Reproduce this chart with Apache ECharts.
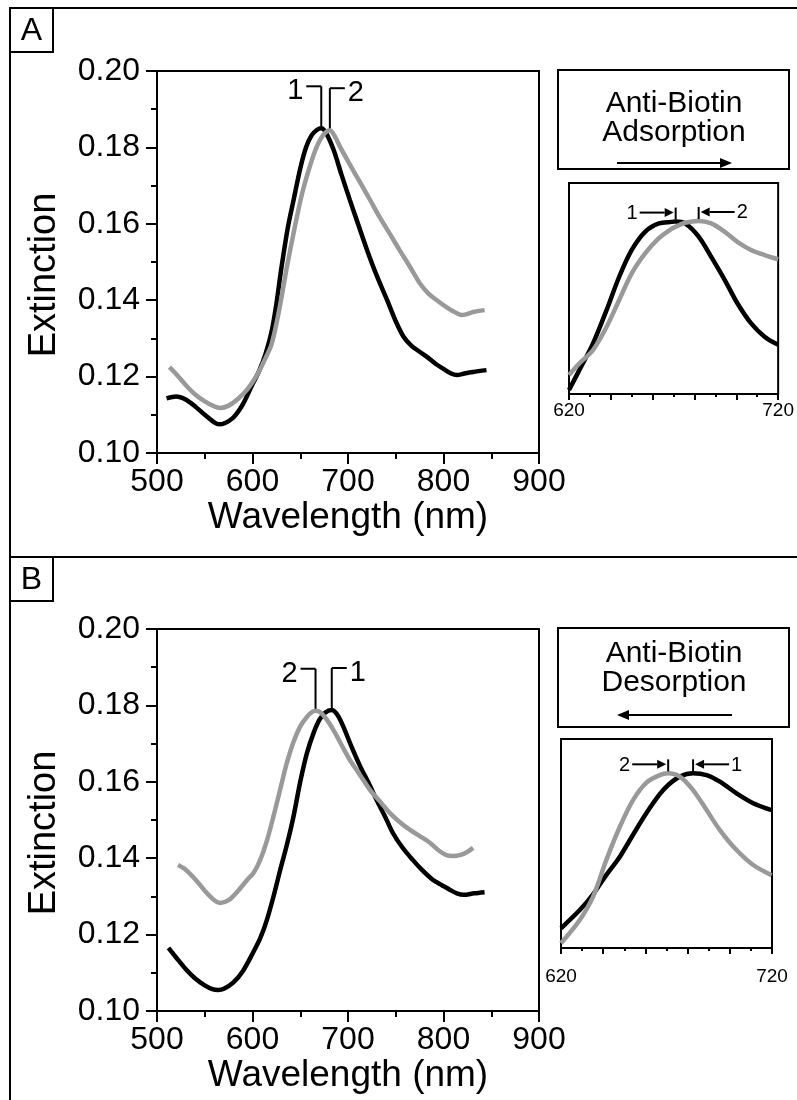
<!DOCTYPE html>
<html><head><meta charset="utf-8">
<script src="https://cdn.jsdelivr.net/npm/echarts@6/dist/echarts.min.js"></script>
<style>html,body{margin:0;padding:0;background:#fff}#c{width:797px;height:1100px}</style>
</head><body><div id="c"></div>
<script>
// ---------- DATA ----------
// Panel A main spectra (1 = black, 2 = gray)
const aBlackWl = [510,520,530,540,550,560,565,570,580,590,600,607,614,620,625,630,637,643,650,656,662,667,672,677,685,693,702,711,720,730,741,750,758,766,775,783,792,800,808,814,822,831,845];
const aBlackVal = [0.1143,0.1148,0.1140,0.1122,0.1100,0.1080,0.1075,0.1077,0.1093,0.1128,0.1180,0.1215,0.1262,0.1318,0.1390,0.1480,0.1590,0.1662,0.1745,0.1800,0.1832,0.1845,0.1850,0.1838,0.1793,0.1730,0.1662,0.1596,0.1531,0.1465,0.1400,0.1345,0.1305,0.1282,0.1265,0.1251,0.1233,0.1220,0.1208,0.1204,0.1208,0.1212,0.1217];
const aGrayWl = [513,520,530,540,550,560,566,575,585,595,605,612,620,628,636,645,652,660,667,674,681,686,692,702,713,723,733,744,754,765,775,784,793,803,811,819,825,831,843];
const aGrayVal = [0.1225,0.1207,0.1178,0.1153,0.1135,0.1122,0.1118,0.1124,0.1142,0.1168,0.1205,0.1240,0.1285,0.1375,0.1487,0.1600,0.1680,0.1750,0.1800,0.1832,0.1845,0.1830,0.1800,0.1755,0.1707,0.1663,0.1618,0.1573,0.1531,0.1487,0.1445,0.1418,0.1400,0.1382,0.1370,0.1361,0.1364,0.1369,0.1374];
// Panel A inset (620-720 nm)
const aInsetWl = [620,625,631.5,638,644,650,656.5,663,669,671,675.5,682,688,694.5,700.5,707,713.5,720];
const aInsetBlack = [0.1313,0.1380,0.1468,0.1579,0.1689,0.1778,0.1839,0.1866,0.1871,0.1872,0.1866,0.1822,0.1755,0.1678,0.1601,0.1535,0.1490,0.1463];
const aInsetGray = [0.1363,0.1402,0.1446,0.1523,0.1612,0.1700,0.1767,0.1817,0.1848,0.1855,0.1868,0.1874,0.1866,0.1838,0.1805,0.1778,0.1761,0.1747];
// Panel B main spectra
const bBlackWl = [512,520,530,540,550,558,564,570,580,590,600,608,615,622,629,636,643,650,657,664,670,676,683,689,695,704,713,722,730,739,747,757,768,778,789,798,807,814,821,832,843];
const bBlackVal = [0.1165,0.1140,0.1110,0.1085,0.1067,0.1057,0.1055,0.1058,0.1075,0.1105,0.1150,0.1190,0.1238,0.1300,0.1369,0.1435,0.1510,0.1600,0.1675,0.1728,0.1762,0.1781,0.1788,0.1775,0.1745,0.1690,0.1639,0.1595,0.1552,0.1508,0.1466,0.1428,0.1395,0.1368,0.1343,0.1330,0.1317,0.1308,0.1304,0.1308,0.1311];
const bGrayWl = [522,530,540,550,560,566,575,585,595,601,608,615,622,629,636,643,650,657,662,666,671,678,686,694,702,712,723,733,744,754,765,775,786,795,803,810,817,824,831];
const bGrayVal = [0.1382,0.1370,0.1345,0.1315,0.1290,0.1283,0.1290,0.1315,0.1345,0.1361,0.1395,0.1445,0.1510,0.1580,0.1650,0.1705,0.1745,0.1770,0.1782,0.1786,0.1782,0.1762,0.1730,0.1693,0.1657,0.1620,0.1579,0.1550,0.1518,0.1495,0.1474,0.1458,0.1440,0.1420,0.1408,0.1406,0.1408,0.1415,0.1427];
// Panel B inset (620-720 nm)
const bInsetWl = [620,628.9,635.2,641.5,647.9,654.2,660.5,666.8,670.8,676.3,682.6,689,695.3,703.2,711.1,719.8];
const bInsetBlack = [0.1366,0.1427,0.1480,0.1545,0.1606,0.1680,0.1752,0.1815,0.1846,0.1874,0.1885,0.1879,0.1857,0.1818,0.1785,0.1762];
const bInsetGray = [0.1316,0.1394,0.1472,0.1595,0.1706,0.1796,0.1854,0.1879,0.1885,0.1874,0.1829,0.1762,0.1695,0.1628,0.1578,0.1544];
// Tick labels / texts
const mainXTicks = [500,600,700,800,900];
const mainYTicks = ['0.10','0.12','0.14','0.16','0.18','0.20'];
const insetXLabels = [620,720];
const panelLetters = ['A','B'];
const boxTexts = ['Anti-Biotin\nAdsorption','Anti-Biotin\nDesorption'];

// ---------- STYLE / LAYOUT ----------
const FONT = '"Liberation Sans", Arial, sans-serif';
const BLACK = '#000000', GRAY = '#999999';
const zip = (xs, ys) => xs.map((x, i) => [x, ys[i]]);

const chart = echarts.init(document.getElementById('c'), null, {renderer: 'canvas'});

function mainX(gi){
  return {gridIndex: gi, type: 'value', min: mainXTicks[0], max: mainXTicks[mainXTicks.length-1], interval: 100,
    axisLine: {onZero: false, lineStyle: {color: '#000', width: 2}},
    axisTick: {length: 11, lineStyle: {color: '#000', width: 2}},
    minorTick: {show: true, splitNumber: 2, length: 6, lineStyle: {color: '#000', width: 2}},
    splitLine: {show: false}, minorSplitLine: {show: false},
    axisLabel: {color: '#000', fontSize: 32, fontFamily: FONT, margin: 13},
    name: 'Wavelength (nm)', nameLocation: 'middle', nameGap: 46,
    nameTextStyle: {color: '#000', fontSize: 37, fontFamily: FONT}};
}
function mainY(gi){
  return {gridIndex: gi, type: 'value', min: +mainYTicks[0], max: +mainYTicks[mainYTicks.length-1], interval: 0.02,
    axisLine: {onZero: false, lineStyle: {color: '#000', width: 2}},
    axisTick: {length: 11, lineStyle: {color: '#000', width: 2}},
    minorTick: {show: true, splitNumber: 2, length: 6, lineStyle: {color: '#000', width: 2}},
    splitLine: {show: false}, minorSplitLine: {show: false},
    axisLabel: {color: '#000', fontSize: 32, fontFamily: FONT, margin: 17, formatter: v => v.toFixed(2)},
    name: 'Extinction', nameLocation: 'middle', nameGap: 93, nameRotate: 90,
    nameTextStyle: {color: '#000', fontSize: 38, fontFamily: FONT, padding: [0, 26, 0, 0]}};
}
function insetX(gi, margin){
  return {gridIndex: gi, type: 'value', min: insetXLabels[0], max: insetXLabels[1], interval: 20,
    axisLine: {onZero: false, lineStyle: {color: '#000', width: 2}},
    axisTick: {length: 6, lineStyle: {color: '#000', width: 2}},
    minorTick: {show: true, splitNumber: 2, length: 3, lineStyle: {color: '#000', width: 2}},
    splitLine: {show: false}, minorSplitLine: {show: false},
    axisLabel: {color: '#000', fontSize: 19, fontFamily: FONT, margin: margin,
      formatter: v => insetXLabels.indexOf(v) >= 0 ? String(v) : ''}};
}
function insetY(gi){
  return {gridIndex: gi, type: 'value', min: 0.13, max: 0.20, show: false, splitLine: {show: false}};
}
function line(xi, data, color, z){
  return {type: 'line', xAxisIndex: xi, yAxisIndex: xi, data: data, showSymbol: false, smooth: 0.3,
    lineStyle: {color: color, width: 4.5}, itemStyle: {color: color}, z: z, animation: false, silent: true};
}

const gridBase = {show: true, borderColor: '#000', borderWidth: 2, backgroundColor: 'transparent', containLabel: false};
chart.setOption({
  animation: false,
  backgroundColor: '#fff',
  grid: [
    Object.assign({left: 157, top: 71, width: 382, height: 382}, gridBase),
    Object.assign({left: 569, top: 183, width: 212, height: 211}, gridBase),
    Object.assign({left: 157, top: 629, width: 382, height: 382}, gridBase),
    Object.assign({left: 561, top: 739, width: 211, height: 209}, gridBase)
  ],
  xAxis: [mainX(0), insetX(1, 7), mainX(2), insetX(3, 19)],
  yAxis: [mainY(0), insetY(1), mainY(2), insetY(3)],
  series: [
    line(0, zip(aBlackWl, aBlackVal), BLACK, 3),
    line(0, zip(aGrayWl, aGrayVal), GRAY, 4),
    line(1, zip(aInsetWl, aInsetBlack), BLACK, 3),
    line(1, zip(aInsetWl, aInsetGray), GRAY, 4),
    line(2, zip(bBlackWl, bBlackVal), BLACK, 3),
    line(2, zip(bGrayWl, bGrayVal), GRAY, 4),
    line(3, zip(bInsetWl, bInsetBlack), BLACK, 3),
    line(3, zip(bInsetWl, bInsetGray), GRAY, 4)
  ]
});

// ---------- ANNOTATIONS / DECORATION ----------
const els = [];
function seg(x1, y1, x2, y2, w){
  els.push({type: 'line', silent: true, z: 100, shape: {x1, y1, x2, y2}, style: {stroke: '#000', lineWidth: w || 2}});
}
function txt(x, y, text, size, align, vAlign, lh){
  els.push({type: 'text', silent: true, z: 100, x: x, y: y,
    style: {text: text, fill: '#000', fontSize: size, fontFamily: FONT, align: align || 'center',
      verticalAlign: vAlign || 'middle', lineHeight: lh || size}});
}
function arrow(x1, y, x2, len, hw){
  const dir = x2 > x1 ? 1 : -1;
  const base = x2 - dir * len;
  seg(x1, y, base, y, 2);
  els.push({type: 'polygon', silent: true, z: 100, shape: {points: [[x2, y], [base, y - hw], [base, y + hw]]}, style: {fill: '#000'}});
}
function peakPx(gi, wl, val){
  let k = 0;
  val.forEach((v, i) => { if (v > val[k]) k = i; });
  return chart.convertToPixel({gridIndex: gi}, [wl[k], val[k]]);
}
// main-plot bracket labels
function bracket(gi, wl, val, label, side){
  const p = peakPx(gi, wl, val);
  const top = p[1] - 42;
  const xe = p[0] + side * 15;
  seg(p[0], p[1] - 2, p[0], top);
  seg(p[0], top, xe, top);
  txt(xe + side * 3, top + 5, label, 29, side < 0 ? 'right' : 'left', 'middle');
}
// inset arrow labels
function pointer(gi, wl, val, label, side){
  const p = peakPx(gi, wl, val);
  seg(p[0], p[1] - 2, p[0], p[1] - 14);
  const y = p[1] - 9;
  arrow(p[0] + side * 36, y, p[0] + side * 2, 9, 4.5);
  txt(p[0] + side * 38, y + 1, label, 20, side < 0 ? 'right' : 'left', 'middle');
}
bracket(0, aBlackWl, aBlackVal, '1', -1);
bracket(0, aGrayWl, aGrayVal, '2', 1);
bracket(2, bGrayWl, bGrayVal, '2', -1);
bracket(2, bBlackWl, bBlackVal, '1', 1);
pointer(1, aInsetWl, aInsetBlack, '1', -1);
pointer(1, aInsetWl, aInsetGray, '2', 1);
pointer(3, bInsetWl, bInsetGray, '2', -1);
pointer(3, bInsetWl, bInsetBlack, '1', 1);

// outer frame and panel separators
seg(10, 8, 10, 1100, 2);
seg(10, 8, 797, 8, 2);
seg(10, 557, 797, 557, 2);
// panel letter boxes
[[8, panelLetters[0]], [557, panelLetters[1]]].forEach(([y0, L]) => {
  els.push({type: 'rect', silent: true, z: 100, shape: {x: 10, y: y0, width: 43, height: 44}, style: {fill: 'none', stroke: '#000', lineWidth: 2}});
  txt(31.5, y0 + 23, L, 32, 'center', 'middle');
});
// text boxes with direction arrows
[[70, 0, 1, 48], [628, 1, -1, 40]].forEach(([y0, k, dir, ty]) => {
  els.push({type: 'rect', silent: true, z: 100, shape: {x: 558, y: y0, width: 231, height: 99}, style: {fill: 'none', stroke: '#000', lineWidth: 2}});
  txt(674, y0 + ty, boxTexts[k], 30, 'center', 'middle', 29);
  if (dir > 0) arrow(617, y0 + 93, 732, 12, 5); else arrow(732, y0 + 87, 617, 12, 5);
});
chart.setOption({graphic: {elements: els}});
</script>
</body></html>
